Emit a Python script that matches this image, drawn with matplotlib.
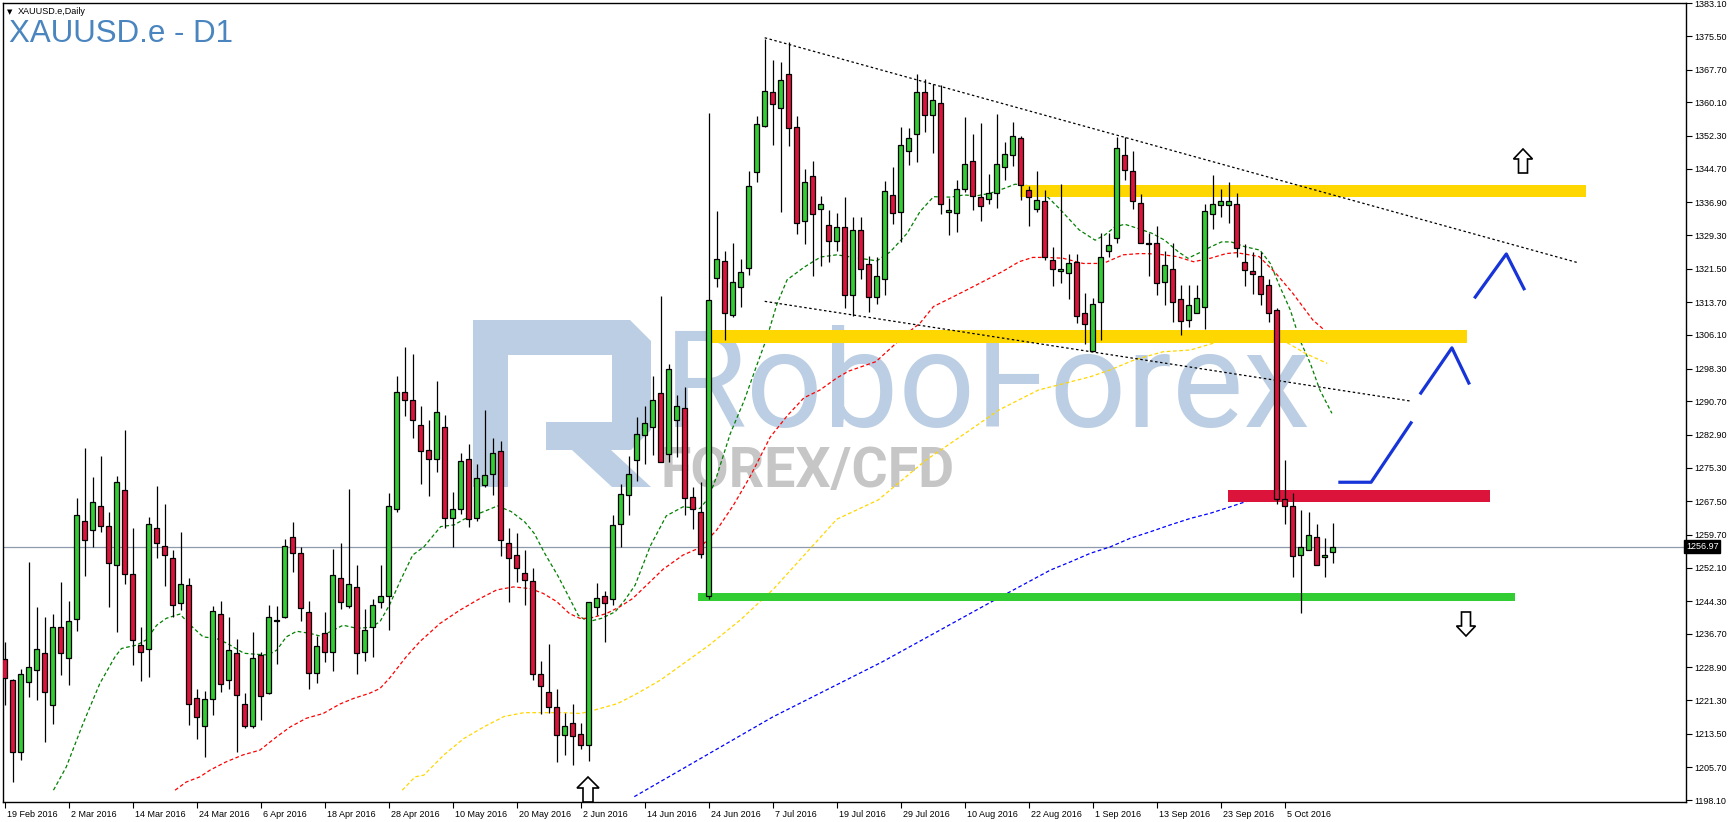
import numpy as np
import matplotlib.pyplot as plt
from matplotlib.patches import Polygon
from matplotlib.transforms import ScaledTranslation, blended_transform_factory

W, H = 1730, 822

# daily candles, bar 0 = 19 Feb 2016
opens = [1230.8, 1226.0, 1209.3, 1225.6, 1228.4, 1232.2, 1220.1, 1238.4, 1231.2, 1240.1,
         1263.0, 1260.8, 1266.3, 1261.7, 1252.6, 1270.0, 1250.5, 1234.2, 1233.1, 1261.2,
         1257.0, 1254.2, 1243.8, 1248.0, 1221.9, 1215.4, 1221.5, 1241.2, 1226.1, 1232.2,
         1220.5, 1215.4, 1231.7, 1223.0, 1239.7, 1240.5, 1259.1, 1255.4, 1241.7, 1227.5,
         1236.8, 1232.4, 1249.6, 1243.1, 1247.5, 1232.5, 1238.2, 1244.0, 1245.4, 1265.6,
         1292.8, 1291.1, 1285.3, 1279.5, 1277.2, 1284.8, 1263.6, 1265.8, 1277.4, 1263.6,
         1271.2, 1273.7, 1279.1, 1257.9, 1255.1, 1250.9, 1248.9, 1227.3, 1223.3, 1219.8,
         1213.3, 1215.9, 1213.4, 1211.0, 1243.0, 1245.4, 1244.7, 1262.1, 1268.9, 1277.0,
         1282.8, 1284.7, 1292.7, 1278.5, 1286.3, 1289.2, 1268.4, 1265.0, 1245.6, 1319.3,
         1323.2, 1310.8, 1317.2, 1321.6, 1344.0, 1354.5, 1362.6, 1358.8, 1366.6, 1354.3,
         1332.5, 1342.9, 1335.4, 1331.7, 1327.8, 1331.1, 1315.3, 1330.4, 1322.5, 1314.8,
         1319.0, 1338.6, 1334.7, 1348.7, 1352.7, 1362.4, 1357.1, 1359.9, 1334.6, 1334.3,
         1339.9, 1346.4, 1338.1, 1337.6, 1339.0, 1345.0, 1347.8, 1351.8, 1339.7, 1335.3,
         1337.1, 1323.4, 1320.9, 1320.4, 1323.0, 1311.3, 1302.4, 1313.7, 1325.7, 1328.5,
         1347.8, 1344.1, 1336.7, 1327.3, 1327.4, 1318.5, 1321.3, 1314.4, 1309.5, 1311.1,
         1312.7, 1334.1, 1336.2, 1336.2, 1336.4, 1323.0, 1320.9, 1319.9, 1317.6, 1311.8,
         1267.9, 1266.3, 1254.9, 1256.1, 1259.1, 1254.5, 1255.6]
highs = [1234.9, 1226.3, 1228.5, 1253.4, 1242.9, 1240.6, 1241.3, 1248.7, 1244.3, 1268.2,
         1279.8, 1273.1, 1278.0, 1265.0, 1273.3, 1284.0, 1261.2, 1238.3, 1263.8, 1271.0,
         1266.8, 1256.1, 1260.3, 1249.6, 1224.0, 1223.4, 1243.1, 1244.3, 1240.6, 1235.4,
         1222.9, 1237.1, 1232.5, 1243.4, 1243.1, 1258.8, 1262.7, 1256.8, 1244.3, 1236.3,
         1241.7, 1256.5, 1257.9, 1270.3, 1252.6, 1242.5, 1244.9, 1252.8, 1269.5, 1296.5,
         1303.4, 1301.6, 1289.5, 1286.3, 1295.4, 1287.4, 1269.6, 1278.8, 1280.7, 1276.1,
         1288.6, 1282.1, 1281.4, 1261.2, 1260.2, 1256.1, 1252.1, 1230.3, 1234.4, 1223.9,
         1218.4, 1220.5, 1216.0, 1244.2, 1248.6, 1246.6, 1264.2, 1271.6, 1278.0, 1287.0,
         1289.6, 1296.6, 1315.1, 1299.4, 1292.2, 1294.0, 1270.8, 1272.0, 1357.6, 1334.8,
         1325.7, 1327.4, 1323.7, 1344.1, 1356.9, 1374.8, 1369.9, 1369.4, 1374.2, 1357.0,
         1344.6, 1346.4, 1338.3, 1335.0, 1334.4, 1338.2, 1333.4, 1333.4, 1324.4, 1324.3,
         1341.8, 1345.1, 1354.3, 1354.1, 1366.7, 1365.5, 1364.4, 1364.1, 1337.8, 1342.1,
         1356.6, 1352.8, 1355.2, 1343.5, 1357.4, 1351.0, 1355.5, 1352.2, 1340.6, 1344.1,
         1339.7, 1326.6, 1341.1, 1324.8, 1325.0, 1315.8, 1314.6, 1329.7, 1329.7, 1352.0,
         1352.0, 1348.7, 1338.9, 1329.7, 1331.5, 1325.5, 1327.4, 1317.7, 1317.8, 1317.8,
         1336.4, 1343.2, 1340.1, 1341.5, 1339.0, 1327.1, 1325.4, 1325.4, 1319.2, 1312.3,
         1277.1, 1269.3, 1265.4, 1264.9, 1262.1, 1258.9, 1262.4]
lows = [1220.2, 1202.2, 1207.4, 1222.1, 1221.3, 1211.6, 1215.8, 1227.2, 1224.9, 1237.4,
        1250.2, 1256.8, 1260.3, 1243.0, 1237.2, 1248.3, 1229.5, 1225.8, 1226.7, 1254.4,
        1247.9, 1240.6, 1242.3, 1215.6, 1212.4, 1208.2, 1217.8, 1223.3, 1223.8, 1209.3,
        1214.9, 1214.9, 1216.8, 1222.8, 1229.8, 1240.3, 1251.1, 1239.8, 1224.0, 1225.4,
        1230.2, 1228.0, 1242.4, 1242.8, 1227.4, 1230.3, 1231.4, 1242.8, 1237.7, 1264.9,
        1287.3, 1282.1, 1271.6, 1268.8, 1274.3, 1261.2, 1256.8, 1264.5, 1261.6, 1262.8,
        1270.7, 1269.0, 1254.8, 1244.0, 1248.8, 1243.3, 1226.1, 1218.0, 1218.4, 1207.0,
        1208.6, 1206.3, 1210.0, 1207.2, 1241.0, 1234.9, 1243.5, 1256.8, 1264.4, 1272.3,
        1276.2, 1278.2, 1276.6, 1276.6, 1277.8, 1264.4, 1261.0, 1254.3, 1244.8, 1317.2,
        1305.0, 1310.3, 1312.5, 1320.0, 1341.5, 1354.3, 1350.1, 1334.6, 1350.0, 1329.6,
        1327.1, 1319.7, 1322.0, 1323.0, 1325.5, 1312.4, 1310.5, 1319.1, 1311.5, 1313.4,
        1315.4, 1331.9, 1327.7, 1345.6, 1346.3, 1353.3, 1348.4, 1334.2, 1329.4, 1330.0,
        1339.4, 1335.2, 1332.6, 1336.5, 1335.6, 1342.0, 1345.4, 1337.4, 1331.3, 1334.7,
        1323.4, 1317.5, 1318.1, 1314.4, 1308.8, 1304.1, 1302.4, 1304.9, 1324.3, 1327.4,
        1342.1, 1335.3, 1327.4, 1319.9, 1315.3, 1313.0, 1309.0, 1306.0, 1308.0, 1311.1,
        1307.5, 1330.8, 1333.4, 1332.2, 1324.1, 1317.5, 1315.5, 1313.0, 1309.0, 1266.9,
        1262.1, 1249.8, 1241.5, 1256.1, 1252.6, 1249.8, 1253.1]
closes = [1226.4, 1209.2, 1227.4, 1229.1, 1233.1, 1223.1, 1238.4, 1232.2, 1239.8, 1264.4,
          1258.6, 1267.2, 1261.7, 1253.1, 1271.9, 1250.5, 1235.2, 1232.6, 1262.1, 1257.7,
          1255.1, 1243.5, 1248.2, 1220.3, 1217.5, 1221.6, 1242.1, 1225.0, 1232.9, 1222.6,
          1215.4, 1231.2, 1222.3, 1240.5, 1239.7, 1257.2, 1255.4, 1242.6, 1227.5, 1233.8,
          1232.6, 1250.3, 1244.2, 1248.2, 1232.2, 1237.7, 1243.3, 1245.6, 1266.3, 1292.8,
          1291.1, 1286.3, 1279.1, 1277.4, 1288.1, 1263.6, 1265.8, 1276.9, 1263.3, 1273.0,
          1273.5, 1278.8, 1258.6, 1254.2, 1251.9, 1249.1, 1227.3, 1224.5, 1219.8, 1213.1,
          1215.4, 1212.9, 1211.0, 1244.2, 1245.1, 1243.8, 1261.9, 1269.1, 1273.7, 1283.2,
          1285.7, 1290.9, 1276.7, 1298.1, 1289.6, 1268.3, 1265.8, 1255.2, 1314.3, 1323.7,
          1311.1, 1318.3, 1320.8, 1340.6, 1355.0, 1362.8, 1359.7, 1365.2, 1354.1, 1332.2,
          1341.5, 1334.1, 1336.4, 1327.8, 1331.1, 1315.4, 1330.4, 1321.3, 1314.9, 1319.7,
          1339.5, 1334.5, 1350.2, 1351.9, 1362.4, 1357.1, 1360.6, 1336.4, 1335.0, 1339.9,
          1345.9, 1338.4, 1336.0, 1339.0, 1345.7, 1348.0, 1352.2, 1340.8, 1338.1, 1337.4,
          1324.1, 1321.3, 1321.3, 1322.7, 1310.6, 1308.6, 1313.2, 1324.3, 1326.9, 1349.4,
          1344.3, 1337.1, 1327.4, 1327.3, 1318.1, 1322.3, 1313.8, 1309.3, 1313.0, 1314.6,
          1334.8, 1336.4, 1337.1, 1337.3, 1326.4, 1321.2, 1320.2, 1315.5, 1311.3, 1267.9,
          1266.5, 1254.7, 1256.8, 1259.6, 1252.8, 1255.1, 1256.97]

date_labels = ["19 Feb 2016", "2 Mar 2016", "14 Mar 2016", "24 Mar 2016", "6 Apr 2016",
               "18 Apr 2016", "28 Apr 2016", "10 May 2016", "20 May 2016", "2 Jun 2016",
               "14 Jun 2016", "24 Jun 2016", "7 Jul 2016", "19 Jul 2016", "29 Jul 2016",
               "10 Aug 2016", "22 Aug 2016", "1 Sep 2016", "13 Sep 2016", "23 Sep 2016",
               "5 Oct 2016"]
price_ticks = [1383.10, 1375.50, 1367.70, 1360.10, 1352.30, 1344.70, 1336.90, 1329.30,
               1321.50, 1313.70, 1306.10, 1298.30, 1290.70, 1282.90, 1275.30, 1267.50,
               1259.70, 1252.10, 1244.30, 1236.70, 1228.90, 1221.30, 1213.50, 1205.70, 1198.10]
last_price = 1256.97

# moving averages (bar index, price)
ma_fast_x = [6.1, 7.7, 9.8, 11.9, 13.8, 14.6, 16.5, 17.7, 19.0, 20.2, 21.9, 23.4, 24.8, 26.5,
             27.8, 29.9, 31.1, 32.9, 34.0, 35.2, 36.5, 38.2, 39.4, 40.7, 42.3, 44.0, 45.7,
             46.9, 48.1, 49.5, 51.0, 52.4, 54.5, 56.2, 57.4, 59.9, 61.6, 63.3, 65.0, 66.2,
             67.5, 69.2, 70.4, 71.7, 72.9, 74.6, 76.3, 77.5, 78.8, 80.7, 82.7, 84.8, 86.9,
             88.0, 89.0, 90.7, 92.4, 94.0, 95.3, 96.5, 97.8, 99.9, 102.0, 104.0, 106.9, 109.0,
             110.7, 112.8, 114.4, 116.1, 118.2, 119.9, 121.5, 123.2, 124.9, 126.3, 128.2,
             129.9, 131.8, 134.3, 136.3, 137.5, 138.8, 140.0, 141.7, 143.4, 145.0, 146.7,
             147.9, 149.6, 150.8, 152.1, 153.3, 155.0, 156.9, 158.2, 159.4, 160.7, 161.9,
             163.2, 164.4, 165.9]
ma_fast_y = [1200.4, 1205.8, 1215.9, 1225.2, 1231.4, 1233.3, 1234.1, 1235.3, 1238.7, 1240.3,
             1241.3, 1238.4, 1236.0, 1235.6, 1234.5, 1232.2, 1232.0, 1231.8, 1232.9, 1236.0,
             1237.3, 1236.8, 1236.2, 1237.2, 1238.7, 1238.0, 1238.2, 1239.5, 1243.4, 1249.2,
             1255.0, 1256.9, 1261.6, 1262.0, 1263.3, 1265.1, 1266.4, 1265.1, 1262.7, 1260.0,
             1255.4, 1250.0, 1245.7, 1241.0, 1239.5, 1240.3, 1241.8, 1244.5, 1248.0, 1257.1,
             1264.1, 1266.2, 1265.8, 1268.3, 1273.3, 1283.2, 1290.7, 1299.0, 1305.6, 1313.1,
             1318.9, 1321.8, 1324.2, 1324.7, 1323.9, 1323.3, 1325.4, 1329.7, 1334.7, 1338.2,
             1338.1, 1338.6, 1338.4, 1339.0, 1340.1, 1341.1, 1340.7, 1339.0, 1335.5, 1330.5,
             1328.1, 1329.3, 1331.2, 1331.8, 1330.8, 1329.7, 1328.1, 1325.4, 1323.9, 1325.4,
             1326.6, 1327.7, 1327.7, 1326.6, 1325.8, 1322.7, 1317.3, 1311.9, 1304.9, 1299.5,
             1293.3, 1287.9]
ma_mid_x = [21.3, 22.7, 24.4, 25.7, 27.7, 29.8, 31.9, 34.0, 35.7, 37.7, 39.8, 41.9, 43.6, 45.6,
            46.9, 48.1, 50.2, 51.9, 52.8, 54.4, 56.9, 59.4, 61.5, 63.6, 65.7, 67.3, 69.0,
            70.6, 71.9, 73.1, 75.2, 76.9, 78.5, 82.3, 84.8, 86.9, 89.0, 91.1, 93.2, 95.7,
            97.8, 99.9, 101.9, 104.0, 105.5, 108.9, 112.8, 114.4, 116.1, 118.6, 120.2, 122.3,
            124.7, 126.8, 128.5, 130.4, 132.3, 134.8, 137.3, 139.8, 141.9, 144.0, 146.5,
            148.6, 150.7, 152.7, 154.0, 156.8, 158.9, 161.0, 163.5, 165.4]
ma_mid_y = [1200.4, 1202.3, 1203.5, 1205.1, 1207.0, 1208.6, 1209.7, 1212.8, 1215.1, 1217.1,
            1218.2, 1220.4, 1221.7, 1222.9, 1224.0, 1226.4, 1231.4, 1234.9, 1236.4, 1239.1,
            1242.2, 1244.9, 1246.9, 1247.6, 1247.2, 1246.1, 1244.2, 1241.4, 1240.3, 1240.3,
            1241.4, 1243.0, 1244.9, 1251.7, 1255.0, 1256.7, 1260.8, 1266.6, 1273.3, 1282.4,
            1287.3, 1291.5, 1293.3, 1296.1, 1297.7, 1299.9, 1306.5, 1308.8, 1312.7, 1315.0,
            1316.5, 1318.5, 1320.8, 1323.1, 1324.1, 1324.1, 1323.9, 1322.7, 1322.7, 1324.7,
            1325.0, 1324.9, 1324.3, 1323.1, 1323.9, 1325.0, 1325.2, 1324.3, 1320.4, 1315.8,
            1309.6, 1306.5]
ma_slow_x = [49.7, 51.3, 52.4, 54.9, 57.4, 59.9, 62.4, 64.9, 67.4, 69.9, 72.0, 74.1, 76.6,
             79.1, 82.0, 85.0, 88.0, 92.0, 96.1, 104.0, 109.2, 115.2, 120.1, 124.3, 129.2,
             133.2, 135.7, 138.2, 141.2, 144.8, 148.2, 152.4, 154.0, 155.6, 157.6, 160.5,
             162.6, 165.3]
ma_slow_y = [1200.4, 1203.5, 1203.9, 1208.6, 1212.4, 1215.1, 1217.5, 1218.4, 1218.4, 1218.4,
             1218.2, 1219.2, 1220.5, 1222.9, 1226.0, 1230.0, 1234.0, 1240.0, 1247.1, 1263.3,
             1267.8, 1277.1, 1283.3, 1288.7, 1293.3, 1295.2, 1296.4, 1298.0, 1300.3, 1302.2,
             1302.6, 1304.9, 1306.1, 1306.5, 1306.5, 1304.1, 1301.8, 1299.5]
ma_long_x = [78.7, 96.0, 109.7, 123.5, 130.7, 133.2, 135.7, 138.2, 140.7, 143.2, 145.7,
             148.2, 150.7, 153.2, 155.3, 157.7, 161.0, 163.1, 165.4]
ma_long_y = [1198.9, 1217.4, 1230.2, 1244.3, 1251.5, 1253.4, 1255.4, 1256.9, 1258.9, 1260.4,
             1262.0, 1263.5, 1264.7, 1266.2, 1267.5, 1268.9, 1268.7, 1268.4, 1268.2]

# drawn objects: levels (bar from, bar to, price low, price high)
levels = [(126.9, 197.7, 1338.2, 1340.9, '#ffd700'),
          (88.3, 182.8, 1304.3, 1307.2, '#ffd700'),
          (152.9, 185.7, 1267.4, 1270.1, '#dc143c'),
          (86.7, 188.8, 1244.4, 1246.3, '#32cd32')]
trend_upper = ([95.0, 196.6], [1375.1, 1322.9])
trend_lower = ([95.0, 175.9], [1313.9, 1290.7])
zigzags = [([166.7, 170.8, 175.9], [1271.9, 1271.9, 1286.0]),
           ([176.9, 180.9, 183.1], [1292.3, 1303.1, 1294.6]),
           ([183.7, 187.7, 190.0], [1314.6, 1324.9, 1316.5])]

GREEN = '#32cd32'
RED = '#dc143c'
WM_BLUE = '#bccee3'

fig = plt.figure(figsize=(W / 100, H / 100), dpi=100)
ax = fig.add_axes([3 / W, 20 / H, 1683 / W, 799 / H])
ax.set_xlim(-0.21, 210.16)
ax.set_ylim(1197.66, 1383.17)


def px(x, y):
    return (x / W, 1 - y / H)


# watermark
r_parts = [
    [(473, 320), (508, 320), (508, 487), (473, 487)],
    [(508, 320), (630, 320), (651, 341), (651, 430), (631, 450), (546, 450), (546, 422),
     (612, 422), (612, 355), (508, 355)],
    [(572, 450), (611, 450), (651, 487), (612, 487)],
]
for pts in r_parts:
    ax.add_patch(Polygon([px(*p) for p in pts], closed=True, transform=fig.transFigure,
                         facecolor=WM_BLUE, edgecolor='none', zorder=0.5))
ax.text(*px(664, 427), 'RoboForex', transform=fig.transFigure, fontsize=97,
        family='Roboto', color=WM_BLUE, ha='left', va='baseline', zorder=0.6)
ax.text(*px(661, 487), 'FOREX/CFD', transform=fig.transFigure, fontsize=40,
        family='Roboto', weight='bold', color='#c6c6c6', ha='left', va='baseline', zorder=0.6)

# last price line
ax.axhline(last_price, color='#8d99ad', lw=0.9, zorder=1)

dash = (0, (3, 2))
ax.plot(ma_fast_x, ma_fast_y, color='#008000', lw=0.9, ls=dash, zorder=2)
ax.plot(ma_mid_x, ma_mid_y, color='#ff0000', lw=0.9, ls=dash, zorder=2)
ax.plot(ma_slow_x, ma_slow_y, color='#ffd700', lw=0.9, ls=dash, zorder=2)
ax.plot(ma_long_x, ma_long_y, color='#0000ff', lw=0.9, ls=dash, zorder=2)

for x0, x1, lo, hi, col in levels:
    ax.fill_between([x0, x1], [lo, lo], [hi, hi], color=col, lw=0, zorder=3)

for tx, ty in (trend_upper, trend_lower):
    ax.plot(tx, ty, color='black', lw=0.9, ls=(0, (2, 2)), zorder=4)

# candles
o = np.array(opens)
h = np.array(highs)
l = np.array(lows)
c = np.array(closes)
xs = np.arange(len(o))
ax.vlines(xs, l, h, color='black', lw=0.9, zorder=5)
body_lo = np.minimum(o, c)
body_h = np.maximum(np.abs(c - o), 0.15)
cols = np.where(np.abs(c - o) < 0.3, 'black', np.where(c >= o, GREEN, RED))
ax.bar(xs, body_h, bottom=body_lo, width=0.62, color=cols, edgecolor='black',
       linewidth=0.9, zorder=6)

for zx, zy in zigzags:
    ax.plot(zx, zy, color='#1634d8', lw=2.3, solid_capstyle='butt', zorder=7)


# hollow arrows in pixel coordinates
def block_arrow(cx, tip, direction, head_w, head_h, stem_w, length):
    s = 1 if direction == 'up' else -1
    base = tip + s * head_h
    end = tip + s * length
    pts = [(cx, tip), (cx + head_w / 2, base), (cx + stem_w / 2, base),
           (cx + stem_w / 2, end), (cx - stem_w / 2, end), (cx - stem_w / 2, base),
           (cx - head_w / 2, base)]
    ax.add_patch(Polygon([px(*p) for p in pts], closed=True, transform=fig.transFigure,
                         facecolor='white', edgecolor='black', lw=1.2, zorder=8,
                         clip_on=False))


block_arrow(588, 777, 'up', 22, 11, 10, 25)
block_arrow(1523, 149, 'up', 19, 10, 9, 24)
block_arrow(1466, 636, 'down', 19, 10, 9, 24)

# axes styling
for sp in ax.spines.values():
    sp.set_color('black')
    sp.set_linewidth(1.0)
ax.yaxis.tick_right()
ax.set_yticks(price_ticks)
ax.set_yticklabels(['%.2f' % v for v in price_ticks])
ax.tick_params(axis='y', direction='out', length=4, width=0.8, labelsize=6.5, pad=2)
ax.set_xticks(np.arange(0, 8 * len(date_labels), 8))
ax.set_xticklabels(date_labels)
ax.tick_params(axis='x', direction='out', length=4, width=0.8, labelsize=6.5, pad=1.5)
shift = ScaledTranslation(1.5 / 72, 0, fig.dpi_scale_trans)
for lbl in ax.get_xticklabels():
    lbl.set_horizontalalignment('left')
    lbl.set_transform(lbl.get_transform() + shift)
for lbl in ax.get_xticklabels() + ax.get_yticklabels():
    lbl.set_family('Liberation Sans')

ax.text(1.0, last_price, '1256.97', transform=blended_transform_factory(ax.transAxes, ax.transData),
        ha='left', va='center', color='white', fontsize=6.5, family='Liberation Sans',
        bbox=dict(boxstyle='square,pad=0.2', fc='black', ec='black'), clip_on=False, zorder=10)

fig.text(*px(7, 14), '\u25bc', fontsize=5, color='black', va='baseline')
fig.text(*px(18, 14.5), 'XAUUSD.e,Daily', fontsize=6.5, family='Liberation Sans',
         color='black', va='baseline')
fig.text(*px(9, 42), 'XAUUSD.e - D1', fontsize=22.5, family='Liberation Sans',
         color='#4a85bf', va='baseline')

fig.savefig('out.png', dpi=100, facecolor='white')
